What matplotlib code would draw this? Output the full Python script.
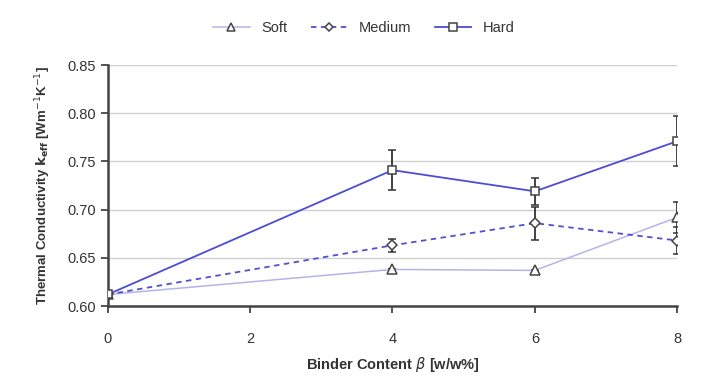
import matplotlib
matplotlib.use("Agg")
import matplotlib.pyplot as plt
from matplotlib.lines import Line2D

plt.rcParams['font.family'] = ['Liberation Sans', 'DejaVu Sans']

binder = [0, 4, 6, 8]

soft = [0.612, 0.638, 0.637, 0.692]
soft_err = [0, 0, 0, 0.016]

medium = [0.612, 0.663, 0.686, 0.668]
medium_err = [0, 0.007, 0.017, 0.014]

hard = [0.612, 0.741, 0.719, 0.771]
hard_err = [0, 0.021, 0.014, 0.026]

fig = plt.figure(figsize=(7.04, 3.76), dpi=100)
ax = fig.add_axes([0.153, 0.186, 0.809, 0.641])

txt = '#333333'
styles = [
    ('Soft', soft, soft_err, '#b4b4ea', '-', '^', 6.5, 1.1),
    ('Medium', medium, medium_err, '#5050d0', (0, (3, 2.5)), 'D', 5, 1.3),
    ('Hard', hard, hard_err, '#4c4cd6', '-', 's', 6, 1.3),
]
handles = []
for name, vals, err, col, ls, mk, ms, lw in styles:
    ax.errorbar(binder, vals, yerr=err, color=col, lw=lw, ls=ls, marker=mk,
                ms=ms, mfc='white', mec='#444444', mew=1.1, ecolor='#333333',
                elinewidth=1.3, capsize=3, zorder=3)
    handles.append(Line2D([], [], color=col, lw=lw, ls=ls, marker=mk, ms=ms - 0.5,
                          mfc='white', mec='#444444', mew=1.1, label=name))

ax.set_xlim(0, 8)
ax.set_ylim(0.60, 0.85)
ax.set_xticks([0, 2, 4, 6, 8])
ax.set_yticks([0.60, 0.65, 0.70, 0.75, 0.80, 0.85])
ax.set_yticklabels(['0.60', '0.65', '0.70', '0.75', '0.80', '0.85'])
ax.yaxis.grid(True, color='#d0d0d0', lw=1)
ax.set_axisbelow(True)
for s in ['top', 'right']:
    ax.spines[s].set_visible(False)
for s in ['left', 'bottom']:
    ax.spines[s].set_color('#444444')
    ax.spines[s].set_linewidth(1.8)
ax.tick_params(axis='both', colors='#444444', labelcolor=txt, labelsize=10.5,
               direction='out', length=5, width=1.3)
ax.tick_params(axis='x', pad=14)

ax.set_xlabel(r'Binder Content $\beta$ [w/w%]', fontsize=10.5, fontweight='bold',
              color=txt, labelpad=6)
ax.set_ylabel(r'Thermal Conductivity $\mathbf{k_{eff}}$ [Wm$^{-1}$K$^{-1}$]',
              fontsize=9.5, fontweight='bold', color=txt, labelpad=10)

ax.legend(handles=handles, loc='lower center', bbox_to_anchor=(0.45, 1.07), ncol=3,
          frameon=False, fontsize=10.5, handlelength=2.5, columnspacing=1.6,
          labelcolor=txt)

fig.savefig('out.png', dpi=100)
